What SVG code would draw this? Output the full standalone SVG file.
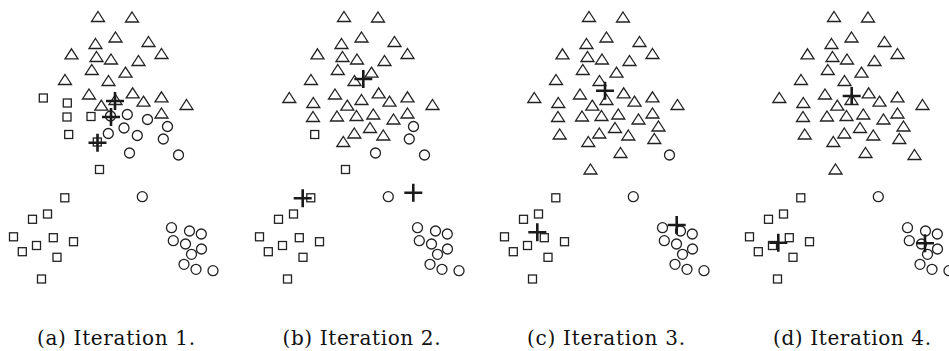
<svg xmlns="http://www.w3.org/2000/svg" xmlns:xlink="http://www.w3.org/1999/xlink" width="949" height="351" viewBox="0 0 949 351">
<style>
.m{fill:none;stroke:#222;stroke-width:1.3}
.p{fill:none;stroke:#1a1a1a;stroke-width:2.6}
.cap{font-family:"DejaVu Serif","Liberation Serif",serif;font-size:20px;fill:#111;text-anchor:middle}
</style>
<defs>
<path id="t" d="M0,-5.5L6.5,4.5L-6.5,4.5Z"/>
<rect id="s" x="-4" y="-4" width="8" height="8"/>
<circle id="c" r="5"/>
<path id="x" d="M-9,0H9M0,-9V9"/>
</defs>
<rect width="949" height="351" fill="#fff"/>

<!-- Panel (a) -->
<g id="panel-a">
<g class="m">
<use href="#t" x="98" y="17"/><use href="#t" x="132" y="17.5"/><use href="#t" x="115.5" y="37.5"/><use href="#t" x="148.5" y="42"/>
<use href="#t" x="95.5" y="44"/><use href="#t" x="71.5" y="54.3"/><use href="#t" x="96.5" y="57"/><use href="#t" x="111" y="59.5"/>
<use href="#t" x="138.5" y="61"/><use href="#t" x="161.5" y="54"/><use href="#t" x="91.8" y="70"/><use href="#t" x="125.5" y="72.7"/>
<use href="#t" x="65" y="80"/><use href="#t" x="108.5" y="81"/><use href="#t" x="89" y="94.5"/><use href="#t" x="132.7" y="93.3"/>
<use href="#t" x="115.5" y="100"/><use href="#t" x="143.5" y="101.7"/><use href="#t" x="161.5" y="97.3"/><use href="#t" x="186.5" y="105"/>
<use href="#t" x="101.3" y="105.7"/><use href="#t" x="161.5" y="113.5"/>
<use href="#s" x="43.3" y="98"/><use href="#s" x="67.3" y="103"/><use href="#s" x="67" y="117"/><use href="#s" x="91" y="116.5"/>
<use href="#s" x="97.3" y="142"/><use href="#s" x="68.7" y="134.5"/><use href="#s" x="99.5" y="169.5"/>
<use href="#c" x="110.5" y="116"/><use href="#c" x="127.3" y="114.5"/><use href="#c" x="147.5" y="119.5"/><use href="#c" x="124" y="128"/>
<use href="#c" x="108.3" y="133.5"/><use href="#c" x="137.3" y="135.5"/><use href="#c" x="167.5" y="126.5"/><use href="#c" x="163.3" y="139"/>
<use href="#c" x="129.5" y="153"/><use href="#c" x="178.5" y="155"/>
<use href="#s" x="64.8" y="197.8"/><use href="#s" x="47.5" y="214"/><use href="#s" x="32.5" y="219.3"/><use href="#s" x="13.5" y="236.8"/>
<use href="#s" x="22.3" y="251.7"/><use href="#s" x="36.5" y="245.5"/><use href="#s" x="53.3" y="237.7"/><use href="#s" x="73.5" y="241.7"/>
<use href="#s" x="57" y="257.3"/><use href="#s" x="41.5" y="279"/>
<use href="#c" x="142.3" y="196.7"/><use href="#c" x="171.5" y="227.7"/><use href="#c" x="189.5" y="231"/><use href="#c" x="201.3" y="234"/>
<use href="#c" x="173.3" y="240.7"/><use href="#c" x="185.5" y="244"/><use href="#c" x="201.5" y="249"/><use href="#c" x="191.5" y="254.3"/>
<use href="#c" x="184" y="264.3"/><use href="#c" x="196" y="269.3"/><use href="#c" x="213" y="270.7"/>
</g>
<g class="p">
<use href="#x" x="115" y="101"/><use href="#x" x="111" y="117"/><use href="#x" x="97.5" y="142.7"/>
</g>
<text class="cap" x="116" y="345" textLength="158">(a) Iteration 1.</text>
</g>

<!-- Panel (b) -->
<g id="panel-b">
<g class="m" transform="translate(246,0)">
<use href="#t" x="98" y="17"/><use href="#t" x="132" y="17.5"/><use href="#t" x="115.5" y="37.5"/><use href="#t" x="148.5" y="42"/>
<use href="#t" x="95.5" y="44"/><use href="#t" x="71.5" y="54.3"/><use href="#t" x="96.5" y="57"/><use href="#t" x="111" y="59.5"/>
<use href="#t" x="138.5" y="61"/><use href="#t" x="161.5" y="54"/><use href="#t" x="91.8" y="70"/><use href="#t" x="125.5" y="72.7"/>
<use href="#t" x="65" y="80"/><use href="#t" x="108.5" y="81"/><use href="#t" x="89" y="94.5"/><use href="#t" x="132.7" y="93.3"/>
<use href="#t" x="115.5" y="100"/><use href="#t" x="143.5" y="101.7"/><use href="#t" x="161.5" y="97.3"/><use href="#t" x="186.5" y="105"/>
<use href="#t" x="101.3" y="105.7"/><use href="#t" x="161.5" y="113.5"/>
<use href="#t" x="43.3" y="98"/><use href="#t" x="67.3" y="103"/><use href="#t" x="67" y="117"/><use href="#t" x="91" y="116.5"/>
<use href="#t" x="97.3" y="142"/>
<use href="#t" x="110.5" y="116"/><use href="#t" x="127.3" y="114.5"/><use href="#t" x="147.5" y="119.5"/><use href="#t" x="124" y="128"/>
<use href="#t" x="108.3" y="133.5"/><use href="#t" x="137.3" y="135.5"/>
<use href="#c" x="167.5" y="126.5"/><use href="#c" x="163.3" y="139"/><use href="#c" x="129.5" y="153"/><use href="#c" x="178.5" y="155"/>
<use href="#s" x="68.7" y="134.5"/><use href="#s" x="99.5" y="169.5"/>
<use href="#s" x="64.8" y="197.8"/><use href="#s" x="47.5" y="214"/><use href="#s" x="32.5" y="219.3"/><use href="#s" x="13.5" y="236.8"/>
<use href="#s" x="22.3" y="251.7"/><use href="#s" x="36.5" y="245.5"/><use href="#s" x="53.3" y="237.7"/><use href="#s" x="73.5" y="241.7"/>
<use href="#s" x="57" y="257.3"/><use href="#s" x="41.5" y="279"/>
<use href="#c" x="142.3" y="196.7"/><use href="#c" x="171.5" y="227.7"/><use href="#c" x="189.5" y="231"/><use href="#c" x="201.3" y="234"/>
<use href="#c" x="173.3" y="240.7"/><use href="#c" x="185.5" y="244"/><use href="#c" x="201.5" y="249"/><use href="#c" x="191.5" y="254.3"/>
<use href="#c" x="184" y="264.3"/><use href="#c" x="196" y="269.3"/><use href="#c" x="213" y="270.7"/>
</g>
<g class="p">
<use href="#x" x="363.3" y="79"/><use href="#x" x="302.7" y="198.3"/><use href="#x" x="413.3" y="192.7"/>
</g>
<text class="cap" x="361.5" y="345" textLength="158">(b) Iteration 2.</text>
</g>

<!-- Panel (c) -->
<g id="panel-c">
<g class="m" transform="translate(491,0)">
<use href="#t" x="98" y="17"/><use href="#t" x="132" y="17.5"/><use href="#t" x="115.5" y="37.5"/><use href="#t" x="148.5" y="42"/>
<use href="#t" x="95.5" y="44"/><use href="#t" x="71.5" y="54.3"/><use href="#t" x="96.5" y="57"/><use href="#t" x="111" y="59.5"/>
<use href="#t" x="138.5" y="61"/><use href="#t" x="161.5" y="54"/><use href="#t" x="91.8" y="70"/><use href="#t" x="125.5" y="72.7"/>
<use href="#t" x="65" y="80"/><use href="#t" x="108.5" y="81"/><use href="#t" x="89" y="94.5"/><use href="#t" x="132.7" y="93.3"/>
<use href="#t" x="115.5" y="100"/><use href="#t" x="143.5" y="101.7"/><use href="#t" x="161.5" y="97.3"/><use href="#t" x="186.5" y="105"/>
<use href="#t" x="101.3" y="105.7"/><use href="#t" x="161.5" y="113.5"/>
<use href="#t" x="43.3" y="98"/><use href="#t" x="67.3" y="103"/><use href="#t" x="67" y="117"/><use href="#t" x="91" y="116.5"/>
<use href="#t" x="97.3" y="142"/>
<use href="#t" x="110.5" y="116"/><use href="#t" x="127.3" y="114.5"/><use href="#t" x="147.5" y="119.5"/><use href="#t" x="124" y="128"/>
<use href="#t" x="108.3" y="133.5"/><use href="#t" x="137.3" y="135.5"/>
<use href="#t" x="167.5" y="126.5"/><use href="#t" x="163.3" y="139"/><use href="#t" x="129.5" y="153"/>
<use href="#c" x="178.5" y="155"/>
<use href="#t" x="68.7" y="134.5"/><use href="#t" x="99.5" y="169.5"/>
<use href="#s" x="64.8" y="197.8"/><use href="#s" x="47.5" y="214"/><use href="#s" x="32.5" y="219.3"/><use href="#s" x="13.5" y="236.8"/>
<use href="#s" x="22.3" y="251.7"/><use href="#s" x="36.5" y="245.5"/><use href="#s" x="53.3" y="237.7"/><use href="#s" x="73.5" y="241.7"/>
<use href="#s" x="57" y="257.3"/><use href="#s" x="41.5" y="279"/>
<use href="#c" x="142.3" y="196.7"/><use href="#c" x="171.5" y="227.7"/><use href="#c" x="189.5" y="231"/><use href="#c" x="201.3" y="234"/>
<use href="#c" x="173.3" y="240.7"/><use href="#c" x="185.5" y="244"/><use href="#c" x="201.5" y="249"/><use href="#c" x="191.5" y="254.3"/>
<use href="#c" x="184" y="264.3"/><use href="#c" x="196" y="269.3"/><use href="#c" x="213" y="270.7"/>
</g>
<g class="p">
<use href="#x" x="605" y="90.7"/><use href="#x" x="537.3" y="232.3"/><use href="#x" x="676.7" y="225"/>
</g>
<text class="cap" x="606" y="345" textLength="158">(c) Iteration 3.</text>
</g>

<!-- Panel (d) -->
<g id="panel-d">
<g class="m" transform="translate(736,0)">
<use href="#t" x="98" y="17"/><use href="#t" x="132" y="17.5"/><use href="#t" x="115.5" y="37.5"/><use href="#t" x="148.5" y="42"/>
<use href="#t" x="95.5" y="44"/><use href="#t" x="71.5" y="54.3"/><use href="#t" x="96.5" y="57"/><use href="#t" x="111" y="59.5"/>
<use href="#t" x="138.5" y="61"/><use href="#t" x="161.5" y="54"/><use href="#t" x="91.8" y="70"/><use href="#t" x="125.5" y="72.7"/>
<use href="#t" x="65" y="80"/><use href="#t" x="108.5" y="81"/><use href="#t" x="89" y="94.5"/><use href="#t" x="132.7" y="93.3"/>
<use href="#t" x="115.5" y="100"/><use href="#t" x="143.5" y="101.7"/><use href="#t" x="161.5" y="97.3"/><use href="#t" x="186.5" y="105"/>
<use href="#t" x="101.3" y="105.7"/><use href="#t" x="161.5" y="113.5"/>
<use href="#t" x="43.3" y="98"/><use href="#t" x="67.3" y="103"/><use href="#t" x="67" y="117"/><use href="#t" x="91" y="116.5"/>
<use href="#t" x="97.3" y="142"/>
<use href="#t" x="110.5" y="116"/><use href="#t" x="127.3" y="114.5"/><use href="#t" x="147.5" y="119.5"/><use href="#t" x="124" y="128"/>
<use href="#t" x="108.3" y="133.5"/><use href="#t" x="137.3" y="135.5"/>
<use href="#t" x="167.5" y="126.5"/><use href="#t" x="163.3" y="139"/><use href="#t" x="129.5" y="153"/><use href="#t" x="178.5" y="155"/>
<use href="#t" x="68.7" y="134.5"/><use href="#t" x="99.5" y="169.5"/>
<use href="#s" x="64.8" y="197.8"/><use href="#s" x="47.5" y="214"/><use href="#s" x="32.5" y="219.3"/><use href="#s" x="13.5" y="236.8"/>
<use href="#s" x="22.3" y="251.7"/><use href="#s" x="36.5" y="245.5"/><use href="#s" x="53.3" y="237.7"/><use href="#s" x="73.5" y="241.7"/>
<use href="#s" x="57" y="257.3"/><use href="#s" x="41.5" y="279"/>
<use href="#c" x="142.3" y="196.7"/><use href="#c" x="171.5" y="227.7"/><use href="#c" x="189.5" y="231"/><use href="#c" x="201.3" y="234"/>
<use href="#c" x="173.3" y="240.7"/><use href="#c" x="185.5" y="244"/><use href="#c" x="201.5" y="249"/><use href="#c" x="191.5" y="254.3"/>
<use href="#c" x="184" y="264.3"/><use href="#c" x="196" y="269.3"/><use href="#c" x="213" y="270.7"/>
</g>
<g class="p">
<use href="#x" x="851.7" y="96"/><use href="#x" x="778.3" y="242.7"/><use href="#x" x="925" y="243.3"/>
</g>
<text class="cap" x="852" y="345" textLength="158">(d) Iteration 4.</text>
</g>
</svg>
